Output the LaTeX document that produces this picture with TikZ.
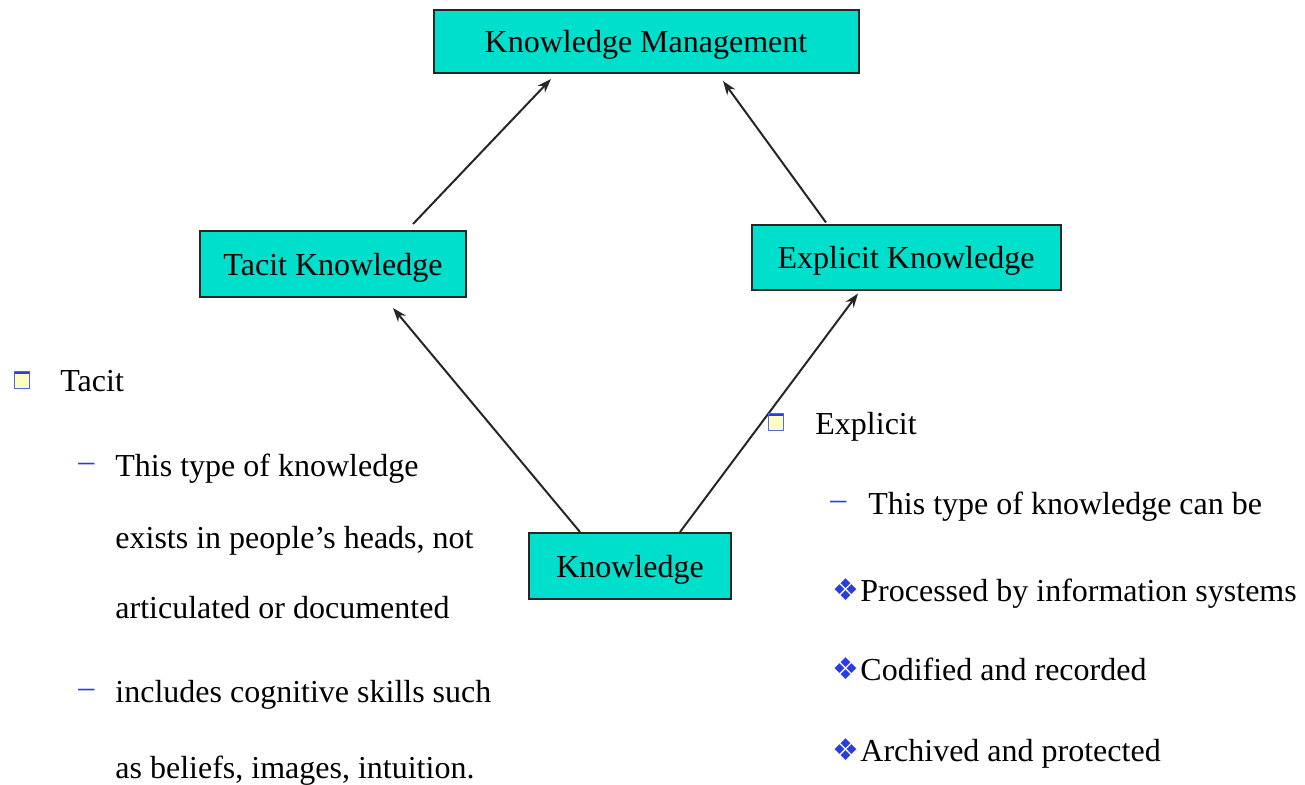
\documentclass[tikz,border=0pt]{standalone}
\usepackage{fontspec}
\setmainfont{Liberation Serif}
\newfontfamily\symfont{DejaVu Sans}
\usetikzlibrary{arrows.meta}

\definecolor{boxcyan}{RGB}{0,222,204}
\definecolor{bulletblue}{RGB}{40,60,230}

\tikzset{
  kbox/.style={draw=black!85,line width=1pt,fill=boxcyan,inner sep=0pt},
  flow/.style={-{Stealth[length=7pt,width=5pt]},draw=black!85,line width=1pt},
  item/.style={anchor=west,inner sep=0pt},
  sqbullet/.style={draw=bulletblue!80,line width=0.9pt,fill=yellow!25,
    minimum width=7.5pt,minimum height=8.5pt,inner sep=0pt,
    path picture={\draw[bulletblue,line width=2pt]
      (path picture bounding box.north west) -- (path picture bounding box.north east);}},
  dashmark/.style={anchor=west,inner sep=0pt,text=bulletblue,yshift=-1pt},
  gem/.style={anchor=west,inner sep=0pt,text=bulletblue,
    font=\symfont\fontsize{15}{16}\selectfont},
}

\begin{document}
\begin{tikzpicture}[x=0.5pt,y=-0.5pt,font=\fontsize{16}{18}\selectfont,text depth=0pt]
\useasboundingbox (0,0) rectangle (1305,784);

% boxes
\node[kbox,minimum width=212.5pt,minimum height=31.5pt] (km)       at (646,41.5) {Knowledge Management};
\node[kbox,minimum width=133pt,minimum height=33pt]     (tacit)    at (333,264)  {Tacit Knowledge};
\node[kbox,minimum width=154.5pt,minimum height=32.5pt] (explicit) at (906,257)  {Explicit Knowledge};
\node[kbox,minimum width=101pt,minimum height=33pt]     (know)     at (630,566)  {Knowledge};

% arrows
\draw[flow] ([xshift=-25pt]know.north) -- ([xshift=30pt,yshift=-5pt]tacit.south);
\draw[flow] ([xshift=25pt]know.north) -- ([xshift=-24pt,yshift=-1.5pt]explicit.south);
\draw[flow] ([xshift=40pt,yshift=3pt]tacit.north) -- ([xshift=-47.5pt,yshift=-2.5pt]km.south);
\draw[flow] ([xshift=-40pt,yshift=0.5pt]explicit.north) -- ([xshift=38.5pt,yshift=-3.5pt]km.south);

% tacit list
\node[sqbullet] (tb) at (22,380) {};
\node[item] (t0) at (60,381) {Tacit};
\node[dashmark] (td1) at (78,465) {--};
\node[item] (t1) at (115,465) {This type of knowledge};
\node[item] (t2) at (115,537) {exists in people’s heads, not};
\node[item] (t3) at (115,607) {articulated or documented};
\node[dashmark] (td2) at (78,691) {--};
\node[item] (t4) at (115,691) {includes cognitive skills such};
\node[item] (t5) at (115,767) {as beliefs, images, intuition.};

% explicit list
\node[sqbullet] (eb) at (776,422) {};
\node[item] (e0) at (815,423) {Explicit};
\node[dashmark] (ed1) at (830,503) {--};
\node[item] (e1) at (868,503) {This type of knowledge can be};
\node[gem] (g1) at (832,590) {❖};
\node[item] (e2) at (860,590) {Processed by information systems};
\node[gem] (g2) at (832,669) {❖};
\node[item] (e3) at (860,669) {Codified and recorded};
\node[gem] (g3) at (832,750) {❖};
\node[item] (e4) at (860,750) {Archived and protected};
\end{tikzpicture}
\end{document}
